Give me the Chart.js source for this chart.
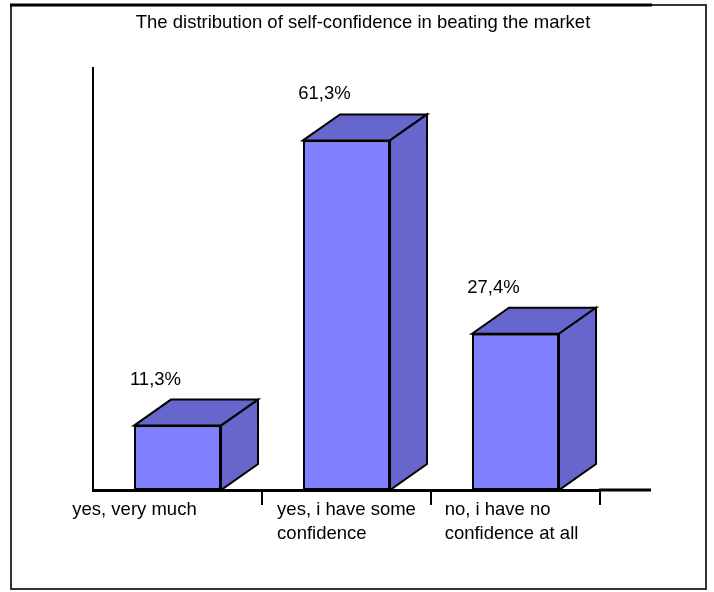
<!DOCTYPE html>
<html>
<head>
<meta charset="utf-8">
<script src="https://cdn.jsdelivr.net/npm/chart.js@4.4.1/dist/chart.umd.min.js"></script>
<style>
  html, body { margin: 0; padding: 0; background: #fff; }
  canvas { display: block; }
</style>
</head>
<body>
<canvas id="confChart" width="714" height="592"></canvas>
<script>
// answers (wrapped into lines) and their shares in %
const answers = [
  ["yes, very much"],
  ["yes, i have some", "confidence"],
  ["no, i have no", "confidence at all"],
];
const shares = [11.3, 61.3, 27.4];
const chartTitle = "The distribution of self-confidence in beating the market";

const FONT = "'Liberation Sans', Arial, sans-serif";
const FONT_SIZE = 18.5;
const DEPTH_X = 37, DEPTH_Y = 26;     // fake 3d extrusion
const labelShift = [-43, 0, -4];      // nudge for the category text blocks

const fmt = v => v.toFixed(1).replace(".", ",") + "%";

const box3d = {
  id: "box3d",
  beforeDraw(chart) {
    const c = chart.ctx;
    c.save();
    c.fillStyle = "#fff";
    c.fillRect(0, 0, chart.width, chart.height);
    // outer frame
    c.strokeStyle = "#333";
    c.lineWidth = 2;
    c.strokeRect(11, 5, 695, 584);
    c.strokeStyle = "#000";
    c.lineWidth = 3;
    c.beginPath();
    c.moveTo(10, 5);
    c.lineTo(652, 5);
    c.stroke();
    // title
    c.fillStyle = "#000";
    c.font = FONT_SIZE + "px " + FONT;
    c.textAlign = "center";
    c.textBaseline = "alphabetic";
    c.fillText(chartTitle, 363, 28);
    c.restore();
  },
  beforeDatasetsDraw(chart) {
    const c = chart.ctx;
    const meta = chart.getDatasetMeta(0);
    c.save();
    c.lineWidth = 2;
    c.strokeStyle = "#000";
    c.lineJoin = "miter";
    meta.data.forEach(bar => {
      const { x, y, base, width } = bar.getProps(["x", "y", "base", "width"], true);
      const l = x - width / 2, r = x + width / 2;
      c.fillStyle = "#6666cc";
      // top face
      c.beginPath();
      c.moveTo(l, y);
      c.lineTo(l + DEPTH_X, y - DEPTH_Y);
      c.lineTo(r + DEPTH_X, y - DEPTH_Y);
      c.lineTo(r, y);
      c.closePath();
      c.fill();
      c.stroke();
      // side face
      c.beginPath();
      c.moveTo(r, y);
      c.lineTo(r + DEPTH_X, y - DEPTH_Y);
      c.lineTo(r + DEPTH_X, base - DEPTH_Y);
      c.lineTo(r, base);
      c.closePath();
      c.fill();
      c.stroke();
    });
    c.restore();
  },
  afterDatasetsDraw(chart) {
    const c = chart.ctx;
    const area = chart.chartArea;
    const xs = chart.scales.x;
    const meta = chart.getDatasetMeta(0);
    c.save();
    // floor edge runs past the last category
    c.strokeStyle = "#000";
    c.lineWidth = 3;
    c.beginPath();
    c.moveTo(area.right - 1, area.bottom);
    c.lineTo(area.right + 51, area.bottom);
    c.stroke();

    c.fillStyle = "#000";
    c.font = FONT_SIZE + "px " + FONT;
    c.textBaseline = "alphabetic";
    // value labels above the boxes
    c.textAlign = "center";
    meta.data.forEach((bar, i) => {
      c.fillText(fmt(shares[i]), bar.x - 22, bar.y - DEPTH_Y - 15);
    });
    // category labels: left-aligned lines, block centred on the category
    c.textAlign = "left";
    answers.forEach((lines, i) => {
      const cx = xs.getPixelForValue(i);
      const w = Math.max(...lines.map(s => c.measureText(s).width));
      const left = cx - w / 2 + labelShift[i];
      lines.forEach((s, j) => {
        c.fillText(s, left, area.bottom + 25 + j * 23.5);
      });
    });
    c.restore();
  },
};

new Chart(document.getElementById("confChart"), {
  type: "bar",
  data: {
    labels: answers.map(a => a.join(" ")),
    datasets: [
      {
        data: shares,
        backgroundColor: "#8080ff",
        borderColor: "#000",
        borderWidth: 2,
        borderSkipped: false,
        barPercentage: 0.515,
        categoryPercentage: 1,
      },
    ],
  },
  options: {
    responsive: false,
    animation: false,
    devicePixelRatio: 1,
    layout: {
      padding: { left: 87, right: 114, top: 68, bottom: 87 },
    },
    scales: {
      x: {
        ticks: { display: false },
        grid: {
          drawOnChartArea: false,
          drawTicks: true,
          tickLength: 15,
          lineWidth: 2,
          color: ctx => (ctx.index === 0 ? "rgba(0,0,0,0)" : "#000"),
        },
        border: { display: true, color: "#000", width: 3 },
      },
      y: {
        min: 0,
        max: 74,
        ticks: { display: false },
        grid: { display: false, drawTicks: false },
        border: { display: true, color: "#000", width: 2 },
        afterFit(scale) {
          scale.width = 6;
        },
      },
    },
    plugins: {
      legend: { display: false },
      title: { display: false },
      tooltip: { enabled: false },
    },
  },
  plugins: [box3d],
});
</script>
</body>
</html>
